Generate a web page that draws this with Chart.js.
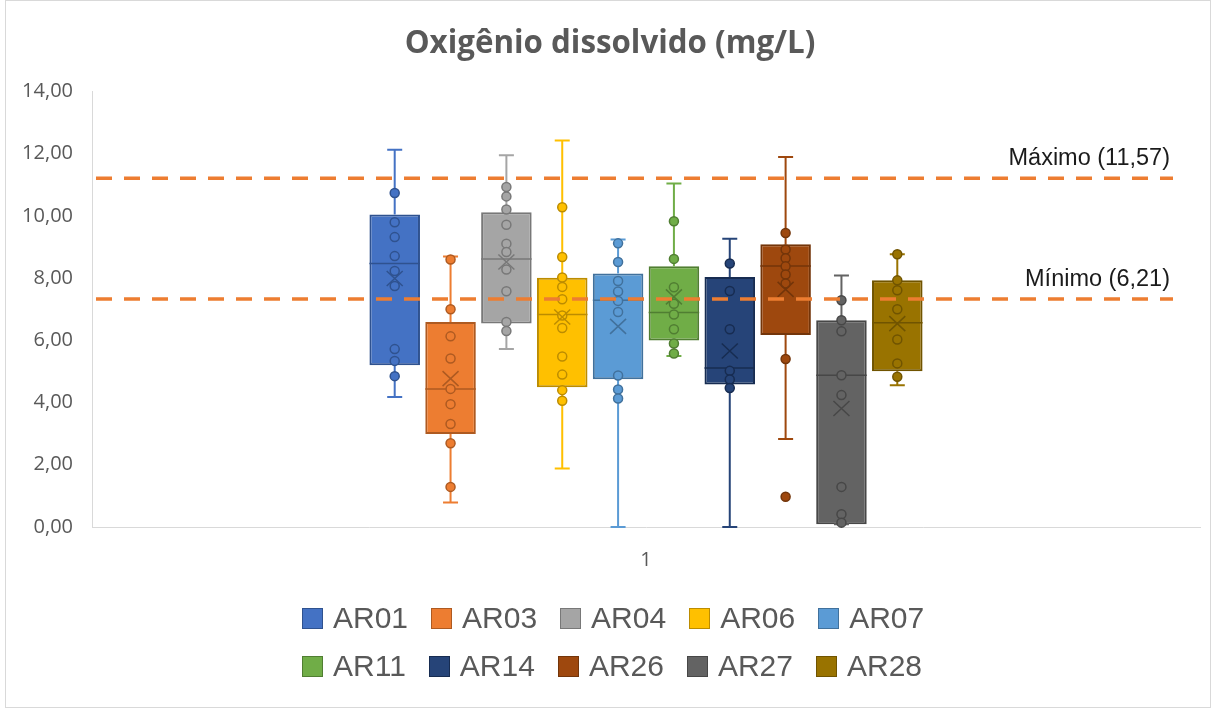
<!DOCTYPE html>
<html>
<head>
<meta charset="utf-8">
<title>Oxigênio dissolvido (mg/L)</title>
<script src="https://cdn.jsdelivr.net/npm/chart.js"></script>
<style>
    body { margin: 0; background: #fff; }
    #wrap { position: relative; width: 1216px; height: 709px; }
    #legend {
        position: absolute; left: 302px; top: 594px; width: 630px;
        display: flex; flex-wrap: wrap; column-gap: 23px;
        font-family: "Liberation Sans", Arial, sans-serif; font-size: 30px; color: #595959;
    }
    .item { display: flex; align-items: center; height: 48px; white-space: nowrap; }
    .swatch { width: 19px; height: 19px; border: 1px solid; margin-right: 10px; }
</style>
</head>
<body>
<div id="wrap">
    <canvas id="myBoxChart" width="1216" height="709"></canvas>
    <div id="legend"></div>
</div>
<script>
// data
const categories = ["1"];
const seriesNames = ["AR01", "AR03", "AR04", "AR06", "AR07", "AR11", "AR14", "AR26", "AR27", "AR28"];
const q1Values     = [5.20, 2.99, 6.54, 4.49, 4.75, 6.00, 4.58, 6.17, 0.09, 5.01];
const medianValues = [8.47, 4.44, 8.62, 6.83, 7.29, 6.90, 5.11, 8.39, 4.88, 6.57];
const q3Values     = [10.05, 6.59, 10.12, 8.01, 8.15, 8.38, 8.04, 9.09, 6.65, 7.93];
const meanValues   = [7.99, 4.77, 8.52, 6.75, 6.45, 7.40, 5.66, 7.64, 3.81, 6.54];
const whiskerMin   = [4.18, 0.79, 5.72, 1.88, 0.00, 5.50, 0.00, 2.83, 0.09, 4.56];
const whiskerMax   = [12.13, 8.70, 11.95, 12.43, 9.24, 11.04, 9.27, 11.90, 8.09, 8.77];
const pointValues = [
    [10.74, 9.80, 9.32, 8.71, 8.23, 7.75, 5.72, 5.34, 4.85],
    [8.60, 7.00, 6.13, 5.42, 4.44, 3.95, 3.31, 2.69, 1.29],
    [10.93, 10.63, 10.21, 9.72, 9.11, 8.84, 8.28, 7.58, 6.59, 6.30],
    [10.28, 8.68, 8.02, 7.72, 7.32, 6.80, 6.40, 5.48, 4.90, 4.40, 4.06],
    [9.12, 8.52, 7.91, 7.57, 7.27, 6.91, 4.87, 4.42, 4.13],
    [9.83, 8.62, 7.71, 7.18, 6.83, 6.36, 5.90, 5.58],
    [8.47, 7.59, 6.36, 5.02, 4.74, 4.47],
    [9.45, 8.92, 8.64, 8.38, 8.12, 7.83, 5.40, 0.97],
    [7.29, 6.65, 6.29, 4.88, 4.24, 1.29, 0.41, 0.14],
    [8.77, 7.93, 7.61, 7.00, 6.03, 5.26, 4.83]
];
const limitValues = [11.21, 7.33];
const limitLabels = ["Máximo (11,57)", "Mínimo (6,21)"];
const yTickLabels = ["0,00", "2,00", "4,00", "6,00", "8,00", "10,00", "12,00", "14,00"];

const fillColors = ["#4472C4", "#ED7D31", "#A5A5A5", "#FFC000", "#5B9BD5", "#70AD47", "#264478", "#9E480E", "#636363", "#997300"];
const darkColors = ["#2F528F", "#AE5A21", "#787878", "#BC8C00", "#41719C", "#507E32", "#172C51", "#73350A", "#474747", "#705400"];

// whiskers, median, mean and the single points on top of the floating bars
const boxParts = {
    id: "boxParts",
    afterDatasetsDraw: function(chart) {
        const ctx = chart.ctx;
        const y = chart.scales.y;
        chart.data.datasets.forEach(function(ds, i) {
            const bar = chart.getDatasetMeta(i).data[0];
            const cx = bar.x, half = bar.width / 2;
            ctx.save();
            ctx.strokeStyle = fillColors[i];
            ctx.lineWidth = 2;
            ctx.beginPath();
            ctx.moveTo(cx, y.getPixelForValue(q3Values[i]));
            ctx.lineTo(cx, y.getPixelForValue(whiskerMax[i]));
            ctx.moveTo(cx, y.getPixelForValue(q1Values[i]));
            ctx.lineTo(cx, y.getPixelForValue(whiskerMin[i]));
            [whiskerMax[i], whiskerMin[i]].forEach(function(v) {
                const py = y.getPixelForValue(v);
                ctx.moveTo(cx - 7.5, py);
                ctx.lineTo(cx + 7.5, py);
            });
            ctx.stroke();

            ctx.strokeStyle = darkColors[i];
            ctx.lineWidth = 1.5;
            const my = y.getPixelForValue(medianValues[i]);
            ctx.beginPath();
            ctx.moveTo(cx - half, my);
            ctx.lineTo(cx + half, my);
            ctx.stroke();

            pointValues[i].forEach(function(v) {
                ctx.beginPath();
                ctx.arc(cx, y.getPixelForValue(v), 4.5, 0, Math.PI * 2);
                ctx.fillStyle = fillColors[i];
                ctx.fill();
                ctx.stroke();
            });

            const ay = y.getPixelForValue(meanValues[i]);
            ctx.beginPath();
            ctx.moveTo(cx - 8, ay - 7.5);
            ctx.lineTo(cx + 8, ay + 7.5);
            ctx.moveTo(cx + 8, ay - 7.5);
            ctx.lineTo(cx - 8, ay + 7.5);
            ctx.stroke();
            ctx.restore();
        });
    },
    afterDraw: function(chart) {
        const ctx = chart.ctx;
        const area = chart.chartArea;
        const y = chart.scales.y;
        ctx.save();
        ctx.strokeStyle = "#ED7D31";
        ctx.lineWidth = 3.5;
        ctx.setLineDash([16, 12]);
        ctx.font = '23.5px "Liberation Sans", Arial, sans-serif';
        ctx.fillStyle = "#1b1b1b";
        ctx.textAlign = "right";
        ctx.textBaseline = "alphabetic";
        limitValues.forEach(function(v, k) {
            const py = y.getPixelForValue(v);
            ctx.beginPath();
            ctx.moveTo(area.left + 4, py);
            ctx.lineTo(area.right - 27, py);
            ctx.stroke();
            ctx.fillText(limitLabels[k], area.right - 30, py - 13);
        });
        // outer frame
        ctx.setLineDash([]);
        ctx.lineWidth = 1;
        ctx.strokeStyle = "#d9d9d9";
        ctx.strokeRect(5.5, 0.5, 1205, 707);
        ctx.restore();
    }
};

const datasets = seriesNames.map(function(name, i) {
    return {
        label: name,
        data: [[q1Values[i], q3Values[i]]],
        backgroundColor: fillColors[i],
        borderColor: darkColors[i],
        borderWidth: 2,
        borderSkipped: false,
        categoryPercentage: 0.504,
        barPercentage: 0.905
    };
});

const ctx = document.getElementById("myBoxChart");

const chart = new Chart(ctx, {
    type: "bar",
    data: { labels: categories, datasets: datasets },
    plugins: [boxParts],
    options: {
        responsive: false,
        animation: false,
        layout: { padding: { left: 20, right: 16, top: 0, bottom: 0 } },
        scales: {
            x: {
                grid: { display: false, drawTicks: false },
                border: { display: true, color: "#d9d9d9", width: 1 },
                ticks: { color: "#595959", padding: 21, font: { family: "Open Sans", size: 20 } },
                afterFit: function(scale) { scale.height = 182; }
            },
            y: {
                min: 0,
                max: 14,
                grid: { display: false, drawTicks: false },
                border: { display: true, color: "#d9d9d9", width: 1 },
                ticks: {
                    stepSize: 2,
                    padding: 19,
                    color: "#595959",
                    font: { family: "Open Sans", size: 20 },
                    callback: function(value, index) {
                        return yTickLabels[index];
                    }
                },
                afterFit: function(scale) { scale.width = 72; }
            }
        },
        plugins: {
            legend: { display: false },
            tooltip: { enabled: false },
            title: {
                display: true,
                text: "Oxigênio dissolvido (mg/L)",
                color: "#595959",
                font: { family: "Open Sans", size: 31.3, weight: "bold" },
                padding: { top: 25, bottom: 29 }
            }
        }
    }
});

// legend in two rows, built from the datasets
const legendBox = document.getElementById("legend");
datasets.forEach(function(ds) {
    const item = document.createElement("div");
    item.className = "item";
    const sw = document.createElement("span");
    sw.className = "swatch";
    sw.style.background = ds.backgroundColor;
    sw.style.borderColor = ds.borderColor;
    item.appendChild(sw);
    item.appendChild(document.createTextNode(ds.label));
    legendBox.appendChild(item);
});
</script>
</body>
</html>
